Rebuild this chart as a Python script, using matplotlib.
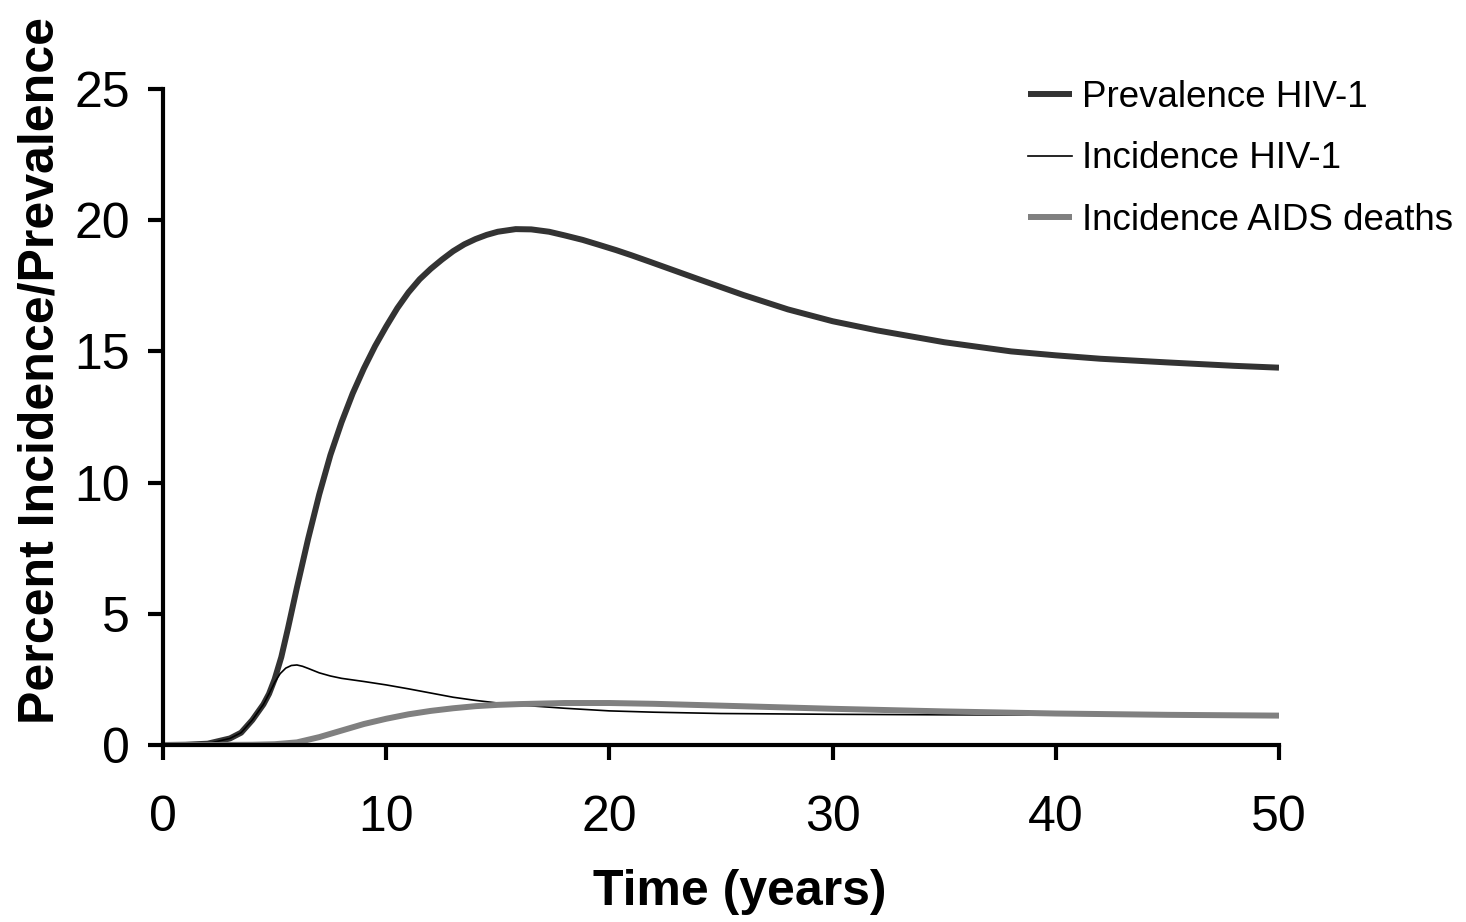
import matplotlib
matplotlib.use("Agg")
import matplotlib.pyplot as plt

# Data
t_prev = [0, 1, 2, 3, 3.5, 4, 4.5, 4.75, 5, 5.3, 5.6, 6, 6.5, 7, 7.5, 8, 8.5, 9, 9.5, 10,
          10.5, 11, 11.5, 12, 12.5, 13, 13.5, 14, 14.5, 15, 15.8, 16.5, 17.3, 18, 18.8,
          19.5, 20.3, 21, 21.8, 24, 26, 28, 30, 32, 35, 38, 40, 42, 45, 48, 50]
prevalence = [0, 0.01, 0.05, 0.25, 0.47, 0.95, 1.55, 1.95, 2.5, 3.35, 4.45, 6.0, 7.85, 9.55,
              11.05, 12.3, 13.4, 14.35, 15.2, 15.95, 16.65, 17.25, 17.75, 18.15, 18.5,
              18.82, 19.08, 19.28, 19.44, 19.56, 19.66, 19.65, 19.56, 19.42, 19.25, 19.07,
              18.86, 18.66, 18.42, 17.75, 17.15, 16.6, 16.15, 15.8, 15.35, 15.0, 14.85,
              14.72, 14.58, 14.45, 14.38]

t_inc = [0, 1, 2, 3, 3.5, 4, 4.5, 4.75, 5, 5.25, 5.5, 5.75, 6, 6.25, 6.5, 7, 7.5, 8, 9, 10,
         11, 12, 13, 14, 15, 16, 18, 20, 22, 25, 30, 35, 40, 45, 50]
incidence = [0, 0.01, 0.05, 0.25, 0.47, 0.95, 1.55, 1.95, 2.38, 2.72, 2.93, 3.03, 3.05, 3.0,
             2.92, 2.75, 2.63, 2.54, 2.42, 2.29, 2.14, 1.98, 1.82, 1.7, 1.6, 1.52, 1.4,
             1.3, 1.25, 1.2, 1.17, 1.15, 1.14, 1.12, 1.1]

t_death = [0, 2, 4, 5, 6, 7, 8, 9, 10, 11, 12, 13, 14, 15, 16, 18, 20, 22, 25, 30, 35, 40,
           45, 50]
deaths = [0, 0, 0.01, 0.03, 0.1, 0.3, 0.55, 0.8, 1.0, 1.17, 1.3, 1.4, 1.48, 1.53, 1.56, 1.6,
          1.6, 1.57, 1.5, 1.38, 1.28, 1.2, 1.15, 1.12]

labels = ["Prevalence HIV-1", "Incidence HIV-1", "Incidence AIDS deaths"]
x_ticks = [0, 10, 20, 30, 40, 50]
y_ticks = [0, 5, 10, 15, 20, 25]

plt.rcParams['font.family'] = ['Liberation Sans', 'DejaVu Sans']

W, H = 1466, 922
fig = plt.figure(figsize=(W / 100, H / 100), dpi=100)
ax = fig.add_axes([163 / W, 1 - 745 / H, (1279 - 163) / W, (745 - 89) / H])

ax.plot(t_prev, prevalence, color='#333333', lw=4.3, label=labels[0],
        solid_capstyle='butt', solid_joinstyle='round')
ax.plot(t_inc, incidence, color='black', lw=1.2, label=labels[1], solid_joinstyle='round')
ax.plot(t_death, deaths, color='#808080', lw=4.3, label=labels[2],
        solid_capstyle='butt', solid_joinstyle='round')

ax.set_xlim(0, 50)
ax.set_ylim(0, 25)
ax.set_xticks(x_ticks)
ax.set_yticks(y_ticks)
ax.set_xticklabels([str(v) for v in x_ticks])
ax.set_yticklabels([str(v) for v in y_ticks])
for s in ['top', 'right']:
    ax.spines[s].set_visible(False)
for s in ['left', 'bottom']:
    ax.spines[s].set_linewidth(3)
ax.tick_params(axis='both', direction='out', length=11, width=3, labelsize=36)
ax.tick_params(axis='x', pad=25)
ax.tick_params(axis='y', pad=13)

fig.text(740 / W, 1 - 905 / H, "Time (years)", fontsize=36, fontweight='bold',
         ha='center', va='baseline')
fig.text(54 / W, 1 - 370 / H, "Percent Incidence/Prevalence", fontsize=36, fontweight='bold',
         ha='center', va='baseline', rotation=90, rotation_mode='anchor')

leg = fig.legend(loc='upper left', bbox_to_anchor=(1028 / W, 1 - 80 / H), frameon=False,
                 fontsize=26.5, handlelength=1.2, handletextpad=0.27, labelspacing=0.72,
                 borderaxespad=0, borderpad=0)

fig.savefig("out.png", dpi=100)
